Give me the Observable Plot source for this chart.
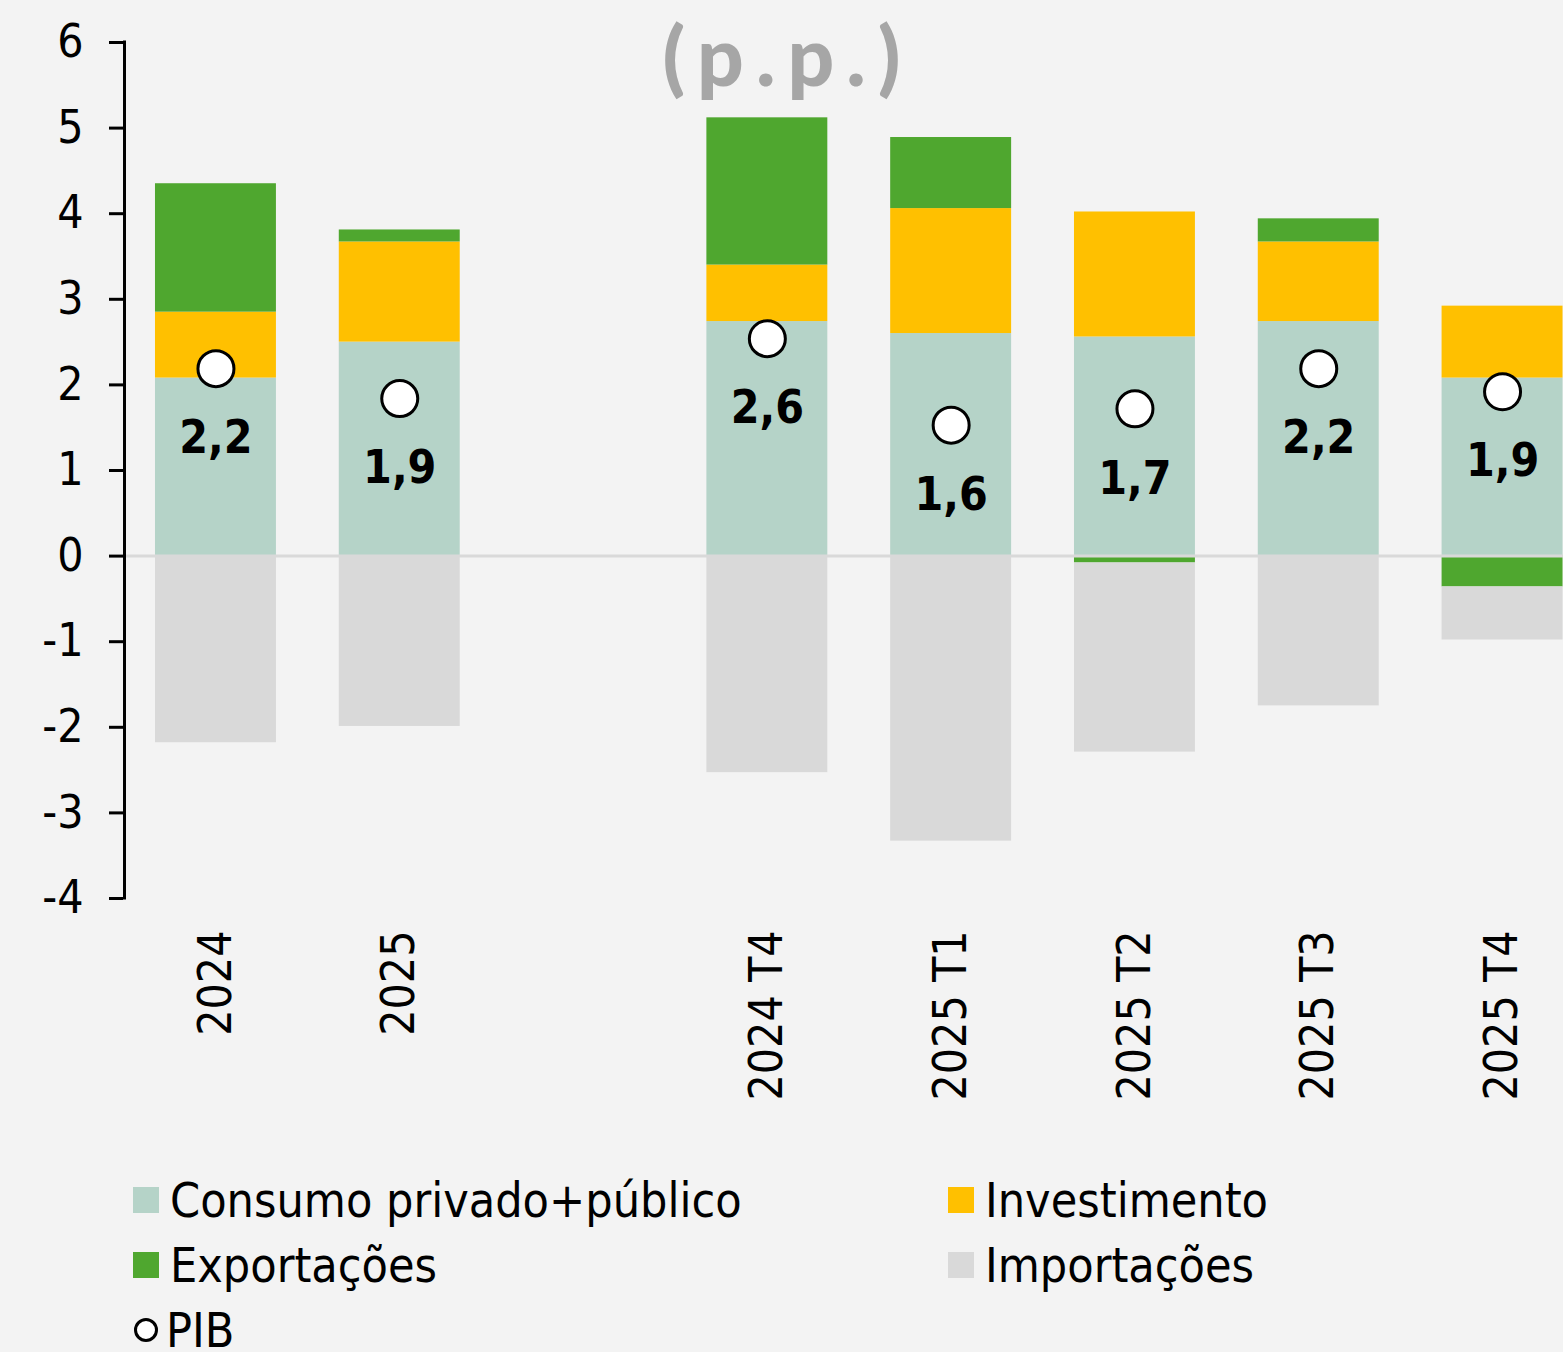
<!DOCTYPE html>
<html><head><meta charset="utf-8">
<script src="https://cdn.jsdelivr.net/npm/d3@7"></script>
<script src="https://cdn.jsdelivr.net/npm/@observablehq/plot@0.6"></script>
<style>
html,body{margin:0;padding:0;background:#f3f3f3;}
#wrap{position:relative;width:1563px;height:1352px;overflow:hidden;background:#f3f3f3;font-family:"DejaVu Sans Condensed","DejaVu Sans",sans-serif;}
#chart{position:absolute;left:0;top:0;}
#title{position:absolute;left:6px;width:1563px;top:13px;text-align:center;font-family:"Lato","Open Sans",sans-serif;font-weight:900;font-size:82px;letter-spacing:12px;color:#a6a6a6;line-height:1;}
#legend{position:absolute;left:133px;top:1167px;display:grid;grid-template-columns:815px auto;}
.item{display:flex;align-items:center;height:65px;font-size:48px;color:#000;white-space:nowrap;}
.sw{width:26px;height:26px;margin-right:11px;flex:none;}
.circ{width:18px;height:18px;border:3px solid #000;border-radius:50%;background:#fff;margin-right:8px;margin-left:1px;flex:none;}
</style></head>
<body>
<div id="wrap">
  <div id="chart"></div>
  <div id="title">(p.p.)</div>
  <div id="legend"></div>
</div>
<script>
// ---- data ----
const categories = ["2024", "2025", " ", "2024 T4", "2025 T1", "2025 T2", "2025 T3", "2025 T4"];
const periods = ["2024", "2025", "2024 T4", "2025 T1", "2025 T2", "2025 T3", "2025 T4"];
const seriesNames = ["Consumo privado+público", "Investimento", "Exportações", "Importações"];
const seriesColors = ["#b5d3c8", "#ffc000", "#4fa72f", "#d9d9d9"];
const consumo      = [2.08, 2.50, 2.74, 2.60, 2.56, 2.74, 2.08];
const investimento = [0.77, 1.17, 0.66, 1.46, 1.46, 0.93, 0.84];
const exportacoes  = [1.50, 0.14, 1.72, 0.83, -0.08, 0.27, -0.36];
const importacoes  = [-2.18, -1.99, -2.53, -3.33, -2.21, -1.75, -0.62];
const pib          = [2.19, 1.84, 2.54, 1.53, 1.72, 2.19, 1.92];
const pibLabels    = ["2,2", "1,9", "2,6", "1,6", "1,7", "2,2", "1,9"];
const yTicks = [-4, -3, -2, -1, 0, 1, 2, 3, 4, 5, 6];

const seriesValues = [consumo, investimento, exportacoes, importacoes];
const rows = [];
seriesNames.forEach((s, si) => periods.forEach((p, i) => rows.push({period: p, serie: s, value: seriesValues[si][i]})));
const pibRows = periods.map((p, i) => ({period: p, value: pib[i], label: pibLabels[i]}));

const font = '"DejaVu Sans Condensed","DejaVu Sans",sans-serif';

const axisLine = (index, scales, values, dims) => {
  const g = d3.create("svg:line")
    .attr("x1", dims.marginLeft + 1.5).attr("x2", dims.marginLeft + 1.5)
    .attr("y1", scales.y(d3.max(yTicks)) - 1.5).attr("y2", scales.y(d3.min(yTicks)) + 1.5)
    .attr("stroke", "#000").attr("stroke-width", 3);
  return g.node();
};

const plot = Plot.plot({
  width: 1563,
  height: 1140,
  marginLeft: 123,
  marginRight: 0,
  marginTop: 42,
  marginBottom: 242,
  style: {background: "transparent", fontFamily: font, overflow: "hidden"},
  x: {type: "band", domain: categories, range: [123, 1594.5], paddingInner: 0.342, paddingOuter: 0.174, align: 0.5, round: false},
  y: {domain: [-4, 6], ticks: yTicks, label: null},
  color: {domain: seriesNames, range: seriesColors},
  marks: [
    Plot.barY(rows, {x: "period", y: "value", fill: "serie", order: seriesNames}),
    Plot.ruleY([0], {stroke: "#d9d9d9", strokeWidth: 3}),
    Plot.axisY({ticks: yTicks, tickSize: 14, tickPadding: 26, strokeWidth: 3, fontSize: 46, fill: "#000", label: null, tickFormat: d => String(d)}),
    axisLine,
    Plot.axisX({tickSize: 0, tickRotate: -90, tickPadding: 32, fontSize: 46, fill: "#000", label: null}),
    Plot.dot(pibRows, {x: "period", y: "value", r: 18, fill: "#fff", stroke: "#000", strokeWidth: 3}),
    Plot.text(pibRows, {x: "period", y: "value", text: "label", dy: 70, fontSize: 46, fontWeight: "bold", fill: "#000"})
  ]
});
document.getElementById("chart").appendChild(plot);

// ---- legend ----
const legend = document.getElementById("legend");
[0, 1, 2, 3].forEach(i => {
  const it = document.createElement("div");
  it.className = "item";
  const sw = document.createElement("span");
  sw.className = "sw";
  sw.style.background = seriesColors[i];
  it.appendChild(sw);
  it.appendChild(document.createTextNode(seriesNames[i]));
  legend.appendChild(it);
});
const pi = document.createElement("div");
pi.className = "item";
const c = document.createElement("span");
c.className = "circ";
pi.appendChild(c);
pi.appendChild(document.createTextNode("PIB"));
legend.appendChild(pi);
</script>
</body></html>
